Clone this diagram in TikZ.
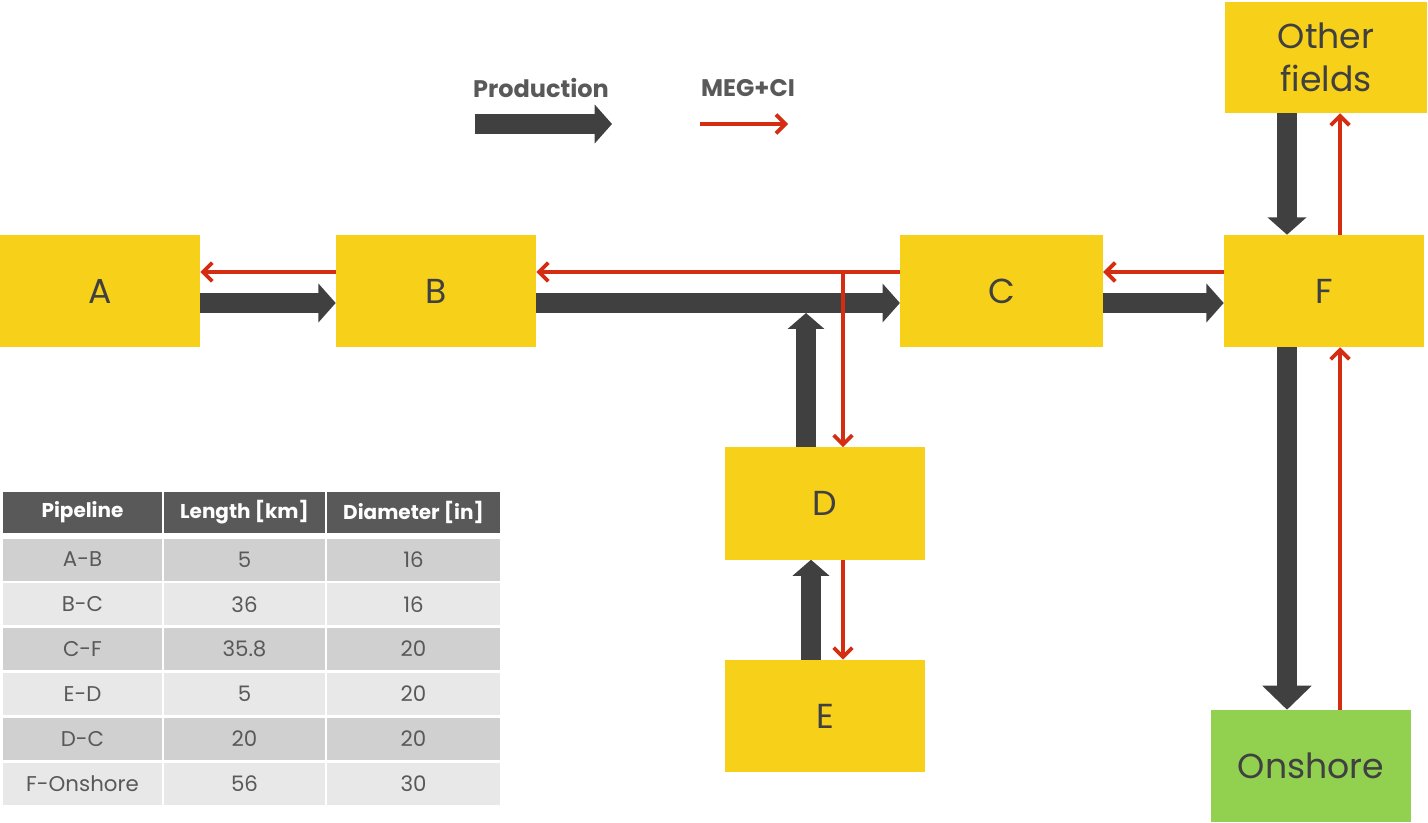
\documentclass[tikz,border=0pt]{standalone}
\usepackage{fontspec}
\setmainfont{Poppins}
\usetikzlibrary{arrows.meta,positioning}

\definecolor{fieldyellow}{HTML}{F6D019}
\definecolor{shoregreen}{HTML}{92D050}
\definecolor{flowgray}{HTML}{404040}
\definecolor{megred}{HTML}{D42D12}
\definecolor{headgray}{HTML}{595959}
\definecolor{rowdark}{HTML}{D0D0D0}
\definecolor{rowlight}{HTML}{E8E8E8}

\tikzset{
  field/.style = {fill = fieldyellow, shape = rectangle, minimum width = 150pt, minimum height = 84pt, inner sep = 0pt, text = flowgray, font = \fontsize{26}{32}\selectfont, align = center},
  prod/.style = {draw = flowgray, line width = 15pt, -{Triangle[width = 28.5pt, length = 13pt]}},
  meg/.style = {draw = megred, line width = 2.9pt, -{Straight Barb[width = 14pt, length = 7pt]}},
  legend/.style = {text = headgray, font = \bfseries\fontsize{18}{20}\selectfont},
  cell/.style = {shape = rectangle, minimum height = 31.5pt, inner sep = 0pt, text = headgray, font = \fontsize{16}{18}\selectfont},
  headcell/.style = {cell, minimum height = 30.75pt, fill = headgray, text = white, font = \bfseries\fontsize{15}{17}\selectfont}
}

\begin{document}
\begin{tikzpicture}[x = 0.75pt, y = -0.75pt]
\useasboundingbox (0,0) rectangle (1428,823);

% fields
\node[field] (A) at (100,291) {A};
\node[field] (B) at (436,291) {B};
\node[field, minimum width = 152pt] (C) at (1001.5,291) {C};
\node[field] (F) at (1324,291) {F};
\node[field, minimum width = 151.5pt, minimum height = 83.25pt] (other) at (1326,57.5) {Other\\fields};
\node[field] (D) at (825,503.5) {D};
\node[field] (E) at (825,716) {E};
\node[field, fill = shoregreen] (onshore) at (1311,766) {Onshore};

% legend
\node[legend] (prodlabel) at (541,88) {Production};
\node[legend] (meglabel) at (748,88) {MEG+CI};
\coordinate (prodstart) at (475,124);
\coordinate (prodend) at (612,124);
\coordinate (megstart) at (700,124);
\coordinate (megend) at (788,124);
\draw[prod] (prodstart) -- (prodend);
\draw[meg] (megstart) -- (megend);

% production
\draw[prod] ([yshift=-9pt]A.east) -- ([yshift=-9pt]B.west);
\draw[prod] ([yshift=-9pt]B.east) -- ([yshift=-9pt]C.west);
\draw[prod] ([yshift=-9pt]C.east) -- ([yshift=-9pt]F.west);
\coordinate (join) at (806,313);
\draw[prod, -{Triangle[width = 27pt, length = 12pt]}] (D.north -| join) -- (join);
\draw[prod, -{Triangle[width = 27pt, length = 12pt]}] ([xshift=-10.5pt]E.north) -- ([xshift=-10.5pt]D.south);
\draw[prod] ([xshift=-29.25pt]other.south) -- ([xshift=-29.25pt]other.south |- F.north);
\draw[prod, -{Triangle[width = 36pt, length = 18pt]}] ([xshift=-27.75pt]F.south) -- ([xshift=-27.75pt]F.south |- onshore.north);

% MEG+CI
\draw[meg] ([yshift=14.25pt]F.west) -- ([yshift=14.25pt]C.east);
\draw[meg] ([yshift=14.25pt]C.west) -- ([yshift=14.25pt]B.east);
\draw[meg] ([yshift=14.25pt]B.west) -- ([yshift=14.25pt]A.east);
\coordinate (split) at (843,272);
\draw[meg] (split) -- (split |- D.north);
\draw[meg] (D.south -| split) -- (E.north -| split);
\draw[meg] ([xshift=21.75pt]onshore.north) -- ([xshift=21.75pt]onshore.north |- F.south);
\draw[meg] ([xshift=12pt]F.north) -- ([xshift=12pt]F.north |- other.south);

% pipeline table
\node[headcell, minimum width = 119.25pt] (h1) at (82.5,512.5) {Pipeline};
\node[headcell, minimum width = 120.75pt] (h2) at (244.5,512.5) {Length [km]};
\node[headcell, minimum width = 129.75pt] (h3) at (413.5,512.5) {Diameter [in]};
\foreach \pipe/\len/\dia/\shade [count=\i] in {A-B/5/16/rowdark, B-C/36/16/rowlight, C-F/35.8/20/rowdark, E-D/5/20/rowlight, D-C/20/20/rowdark, F-Onshore/56/30/rowlight}
{
  \node[cell, fill = \shade, minimum width = 119.25pt] (p\i) at (82.5,{559.5+(\i-1)*44.8}) {\pipe};
  \node[cell, fill = \shade, minimum width = 120.75pt] (l\i) at (244.5,{559.5+(\i-1)*44.8}) {\len};
  \node[cell, fill = \shade, minimum width = 129.75pt] (d\i) at (413.5,{559.5+(\i-1)*44.8}) {\dia};
}
\end{tikzpicture}
\end{document}
